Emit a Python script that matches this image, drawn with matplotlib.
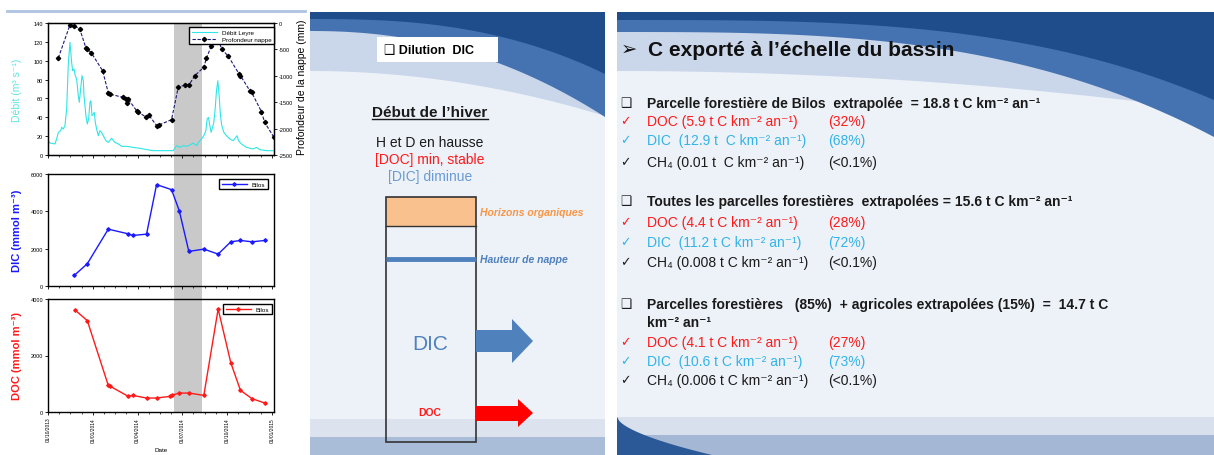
import matplotlib
matplotlib.use("Agg")
import matplotlib.pyplot as plt
import matplotlib.transforms as mtransforms
from matplotlib.patches import Rectangle, Polygon
import numpy as np

plt.rcParams['font.family'] = ['Liberation Sans', 'DejaVu Sans']
plt.rcParams['axes.unicode_minus'] = False

# ---------------- data (x in tick intervals of 3 months) ----------------
date_labels = ["01/10/2013", "01/01/2014", "01/04/2014", "01/07/2014", "01/10/2014", "01/01/2015"]

debit_x = [0.0, 0.045, 0.156, 0.193, 0.231, 0.283, 0.305, 0.342, 0.379, 0.417, 0.454, 0.491,
           0.528, 0.551, 0.580, 0.610, 0.640, 0.677, 0.699, 0.729, 0.759, 0.789, 0.804, 0.848,
           0.878, 0.908, 0.938, 0.960, 0.982, 1.012, 1.034, 1.057, 1.086, 1.124, 1.161, 1.198,
           1.235, 1.295, 1.347, 1.421, 1.496, 1.570, 1.644, 1.756, 1.905, 2.054, 2.202, 2.351,
           2.649, 2.798, 2.872, 2.946, 3.021, 3.095, 3.170, 3.244, 3.318, 3.393, 3.430, 3.482,
           3.527, 3.557, 3.586, 3.616, 3.646, 3.676, 3.705, 3.735, 3.765, 3.795, 3.824, 3.854,
           3.884, 3.929, 3.988, 4.063, 4.137, 4.196, 4.226, 4.256, 4.323, 4.435, 4.583, 4.658,
           4.732, 4.881, 5.030]
debit = [15.2, 12.7, 11.7, 17.0, 24.0, 25.8, 29.3, 27.6, 31.1, 48.8, 96.5, 119.5,
         98.3, 89.4, 91.2, 84.1, 80.6, 62.9, 55.9, 70.0, 84.1, 78.8, 62.9, 41.7,
         32.9, 38.2, 55.9, 57.6, 41.7, 43.5, 45.2, 34.6, 27.6, 20.5, 25.8, 24.0,
         20.5, 15.2, 13.4, 17.7, 13.4, 11.7, 9.2, 9.2, 8.1, 7.1, 5.7, 4.6,
         4.6, 4.6, 9.9, 8.1, 9.9, 9.2, 10.6, 12.7, 9.9, 15.2, 17.0, 20.5,
         25.8, 38.2, 39.9, 31.1, 24.0, 29.3, 34.6, 48.8, 68.2, 78.8, 62.9, 41.7,
         31.1, 24.0, 20.5, 17.0, 15.2, 18.7, 20.5, 15.2, 11.7, 8.1, 6.4, 8.1,
         5.7, 4.6, 4.6]

nappe_x = [0.23, 0.49, 0.58, 0.71, 0.85, 0.88, 0.97, 1.22, 1.35, 1.38, 1.67, 1.74, 1.76,
           1.79, 1.98, 2.00, 2.20, 2.25, 2.43, 2.48, 2.76, 2.91, 3.06, 3.15, 3.28, 3.48,
           3.54, 3.65, 3.77, 3.88, 4.03, 4.27, 4.30, 4.51, 4.55, 4.77, 4.84, 5.04]
nappe = [-663, -38, -50, -114, -480, -492, -568, -903, -1332, -1345, -1408, -1439, -1515,
         -1439, -1661, -1680, -1786, -1742, -1945, -1932, -1831, -1218, -1174, -1174, -998, -839,
         -669, -430, -230, -492, -631, -966, -998, -1282, -1313, -1680, -1881, -2153]

dic_x = [0.588, 0.878, 1.347, 1.793, 1.890, 2.202, 2.426, 2.760, 2.932, 3.147, 3.482,
         3.802, 4.085, 4.301, 4.561, 4.844]
dic = [570, 1193, 3045, 2795, 2706, 2777, 5430, 5163, 4042, 1852, 1976, 1709, 2368,
       2439, 2368, 2439]

doc_x = [0.603, 0.878, 1.347, 1.384, 1.793, 1.890, 2.202, 2.426, 2.723, 2.760, 2.932,
         3.155, 3.482, 3.802, 4.085, 4.301, 4.561, 4.844]
doc = [3611, 3235, 941, 917, 553, 588, 494, 494, 553, 588, 670, 670, 588, 3647, 1741,
       764, 470, 318]

winter = (2.81, 3.44)

# ---------------- figure ----------------
W, H = 1214, 456
fig = plt.figure(figsize=(W / 100, H / 100), dpi=100)
bg = fig.add_axes([0, 0, 1, 1], zorder=-10)
bg.set_xlim(0, W)
bg.set_ylim(H, 0)
bg.axis('off')


def px_axes(x0, y0, x1, y1):
    ax = fig.add_axes([x0 / W, 1 - y1 / H, (x1 - x0) / W, (y1 - y0) / H])
    ax.set_facecolor('none')
    return ax


def style(ax):
    for s in ax.spines.values():
        s.set_linewidth(1.0)
    ax.set_xlim(0, 5.05)
    ax.set_xticks(range(6))
    ax.set_xticks(np.arange(0, 5.05, 0.25), minor=True)
    ax.tick_params(labelsize=4, length=2, width=0.6, pad=1.5)
    ax.tick_params(which='minor', length=1.5, width=0.5)
    ax.set_xticklabels([])


# left panel top rule
bg.plot([7, 305], [12, 12], color='#aec3df', lw=2)

ax1 = px_axes(48, 24, 274, 156)
ax2 = px_axes(48, 175, 274, 287)
ax3 = px_axes(48, 300, 274, 413)
for a in (ax1, ax2, ax3):
    style(a)

# shaded winter band across the three charts
band_tr = mtransforms.blended_transform_factory(ax3.transData, fig.transFigure)
bg.add_patch(Rectangle((winter[0], 1 - 413 / H), winter[1] - winter[0], (413 - 24) / H,
                       transform=band_tr, fc='#c9c9c9', ec='none'))

# chart 1
l1, = ax1.plot(debit_x, debit, color='#2ee6e6', lw=0.8, label='Débit Leyre')
ax1.set_ylim(0, 140)
ax1.set_yticks(range(0, 141, 20))
ax1.set_ylabel('Débit (m³ s⁻¹)', color='#5fe3e3', fontsize=7.5)
ax1.yaxis.set_label_coords(-0.115, 0.5)
ax1b = ax1.twinx()
ax1b.set_facecolor('none')
l2, = ax1b.plot(nappe_x, nappe, color='#1a1a7a', lw=0.8, ls=(0, (3, 1.5)),
                marker='D', ms=2.2, mfc='black', mec='black', label='Profondeur nappe')
ax1b.set_ylim(-2500, 0)
ax1b.set_yticks(range(-2500, 1, 500))
ax1b.tick_params(labelsize=4, length=2, width=0.6, pad=1.5)
ax1b.set_ylabel('Profondeur de la nappe (mm)', fontsize=7.5)
ax1b.yaxis.set_label_coords(1.10, 0.52)
ax1b.legend(handles=[l1, l2], loc='upper right', bbox_to_anchor=(1.0, 0.97), fontsize=4.5,
            frameon=True, fancybox=False, edgecolor='black', framealpha=1,
            borderaxespad=0, handlelength=4, labelspacing=0.25)

# chart 2
ax2.plot(dic_x, dic, color='#1a1aff', lw=1.0, marker='D', ms=1.8, label='Bilos')
ax2.set_ylim(0, 6000)
ax2.set_yticks([0, 2000, 4000, 6000])
ax2.set_ylabel('DIC (mmol m⁻³)', color='#1a1aff', fontsize=8, fontweight='bold')
ax2.yaxis.set_label_coords(-0.115, 0.5)
ax2.legend(loc='upper right', bbox_to_anchor=(0.973, 0.955), fontsize=4.5, frameon=True,
           fancybox=False, edgecolor='black', framealpha=1, borderaxespad=0, handlelength=4)

# chart 3
ax3.plot(doc_x, doc, color='#ff1a1a', lw=1.0, marker='D', ms=1.8, label='Bilos')
ax3.set_ylim(0, 4000)
ax3.set_yticks([0, 2000, 4000])
ax3.set_ylabel('DOC (mmol m⁻³)', color='#ff1a1a', fontsize=8, fontweight='bold')
ax3.yaxis.set_label_coords(-0.115, 0.5)
ax3.set_xticklabels(date_labels, rotation=90, fontsize=3.5)
ax3.set_xlabel('Date', fontsize=4.5, labelpad=4)
ax3.legend(loc='upper right', bbox_to_anchor=(0.991, 0.956), fontsize=4.5, frameon=True,
           fancybox=False, edgecolor='black', framealpha=1, borderaxespad=0, handlelength=4)


# ---------------- slide backgrounds ----------------
def top_wave(x0, x1, light, mid, dark):
    xs = np.linspace(x0, x1, 80)
    t = (xs - x0) / (x1 - x0)
    for yb, c in ((light, '#cad6ea'), (mid, '#4572b0'), (dark, '#1f4c8b')):
        yy = yb(t)
        pts = np.column_stack([np.r_[xs, xs[::-1]], np.r_[yy, np.full_like(xs, 13)]])
        bg.add_patch(Polygon(pts, closed=True, fc=c, ec='none'))


# middle slide
bg.add_patch(Rectangle((310, 13), 295, 443, fc='#edf1f8', ec='none'))
top_wave(310, 605, lambda t: 72 + 45 * t ** 2, lambda t: 32 + 86 * t ** 2.2,
         lambda t: 20 + 55 * t ** 2.6)
bg.add_patch(Rectangle((310, 420), 295, 18, fc='#dce3ee', ec='none'))
bg.add_patch(Rectangle((310, 438), 295, 18, fc='#a9bcd8', ec='none'))

# right slide
bg.add_patch(Rectangle((617, 13), 597, 443, fc='#edf1f8', ec='none'))
top_wave(617, 1214, lambda t: 72 + 40 * t ** 2, lambda t: 33 + 105 * t ** 3,
         lambda t: 21 + 80 * t ** 3.2)
bg.add_patch(Rectangle((617, 418), 597, 18, fc='#d8e0ed', ec='none'))
bg.add_patch(Rectangle((617, 436), 597, 20, fc='#a4b7d5', ec='none'))
sx = np.linspace(617, 712, 40)
sy = 418 + 38 * ((sx - 617) / 95) ** 0.6
bg.add_patch(Polygon(np.column_stack([np.r_[sx, 617], np.r_[sy, 456]]), closed=True,
                     fc='#2b5896', ec='none'))

# ---------------- middle diagram ----------------
bg.add_patch(Rectangle((377, 38), 121, 25, fc='white', ec='none'))
bg.text(384, 51, '❑ Dilution  DIC', fontsize=9, fontweight='bold', va='center')

t_hiver = bg.text(430, 113, 'Début de l’hiver', fontsize=11, fontweight='bold',
                  ha='center', va='center', color='#1a1a1a')
bg.text(430, 143, 'H et D en hausse', fontsize=10, ha='center', va='center', color='#1a1a1a')
bg.text(430, 160, '[DOC] min, stable', fontsize=10, ha='center', va='center', color='#ff1a1a')
bg.text(430, 177, '[DIC] diminue', fontsize=10, ha='center', va='center', color='#6a9bd4')

bg.add_patch(Rectangle((386, 198), 90, 29, fc='#f9c18e', ec='none'))
bg.add_patch(Rectangle((386, 198), 90, 245, fc='none', ec='#333333', lw=1.2))
bg.plot([386, 476], [227, 227], color='#333333', lw=1.0)
bg.plot([386, 476], [260, 260], color='#4f81bd', lw=3.5, solid_capstyle='butt')
bg.text(480, 213, 'Horizons organiques', fontsize=7.5, fontweight='bold', style='italic',
        color='#f79646', va='center')
bg.text(480, 260, 'Hauteur de nappe', fontsize=7.5, fontweight='bold', style='italic',
        color='#4f81bd', va='center')
bg.text(430, 345, 'DIC', fontsize=15, ha='center', va='center', color='#4f81bd')
bg.text(430, 413, 'DOC', fontsize=7.5, fontweight='bold', ha='center', va='center',
        color='#ff1a1a')
bg.add_patch(Polygon([(476, 331), (512, 331), (512, 320), (533, 342), (512, 364),
                      (512, 353), (476, 353)], closed=True, fc='#4f81bd', ec='none'))
bg.add_patch(Polygon([(476, 407), (518, 407), (518, 400), (533, 414), (518, 428),
                      (518, 422), (476, 422)], closed=True, fc='#ff0000', ec='none'))

# ---------------- right slide text ----------------
bg.text(621, 50, '➢', fontsize=14, va='center', color='#111111')
bg.text(648, 50, 'C exporté à l’échelle du bassin', fontsize=15, fontweight='bold',
        va='center', color='#111111')

RED, CYAN, BLACK = '#ff1a1a', '#33b4e8', '#1a1a1a'
lines = [
    (104, 'head', 'Parcelle forestière de Bilos  extrapolée  = 18.8 t C km⁻² an⁻¹', ''),
    (122, RED, 'DOC (5.9 t C km⁻² an⁻¹)', '(32%)'),
    (141, CYAN, 'DIC  (12.9 t  C km⁻² an⁻¹)', '(68%)'),
    (163, BLACK, 'CH₄ (0.01 t  C km⁻² an⁻¹)', '(<0.1%)'),
    (202, 'head', 'Toutes les parcelles forestières  extrapolées = 15.6 t C km⁻² an⁻¹', ''),
    (223, RED, 'DOC (4.4 t C km⁻² an⁻¹)', '(28%)'),
    (243, CYAN, 'DIC  (11.2 t C km⁻² an⁻¹)', '(72%)'),
    (263, BLACK, 'CH₄ (0.008 t C km⁻² an⁻¹)', '(<0.1%)'),
    (305, 'head', 'Parcelles forestières   (85%)  + agricoles extrapolées (15%)  =  14.7 t C', ''),
    (323, 'cont', 'km⁻² an⁻¹', ''),
    (343, RED, 'DOC (4.1 t C km⁻² an⁻¹)', '(27%)'),
    (362, CYAN, 'DIC  (10.6 t C km⁻² an⁻¹)', '(73%)'),
    (381, BLACK, 'CH₄ (0.006 t C km⁻² an⁻¹)', '(<0.1%)'),
]
for y, kind, txt, pct in lines:
    if kind in ('head', 'cont'):
        if kind == 'head':
            bg.text(620, y, '❑', fontsize=9, va='center', color=BLACK)
        bg.text(647, y, txt, fontsize=10, fontweight='bold', va='center', color=BLACK)
    else:
        bg.text(620, y, '✓', fontsize=9, va='center', color=kind)
        bg.text(647, y, txt, fontsize=10, va='center', color=kind)
        bg.text(828, y, pct, fontsize=10, va='center', color=kind)

# underline for the winter heading
fig.canvas.draw()
bb = t_hiver.get_window_extent()
(ux0, uy), (ux1, _) = bg.transData.inverted().transform([[bb.x0, bb.y0], [bb.x1, bb.y0]])
bg.plot([ux0, ux1], [uy, uy], color='#1a1a1a', lw=1.0)

fig.savefig('out.png', dpi=100)
